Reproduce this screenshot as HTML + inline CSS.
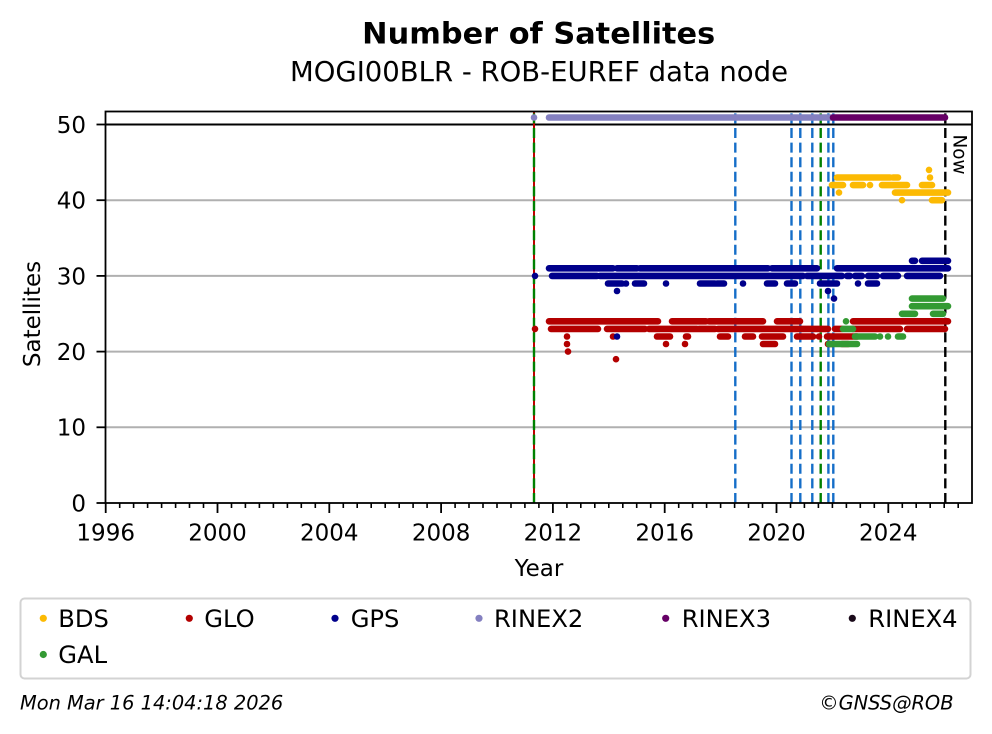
<!DOCTYPE html>
<html>
<head>
<meta charset="utf-8">
<style>
html,body{margin:0;padding:0;background:#fff;}
svg{display:block;}
text{font-family:"DejaVu Sans","Liberation Sans",sans-serif;fill:#000;}
</style>
</head>
<body>
<svg width="992" height="734" viewBox="0 0 992 734" xmlns="http://www.w3.org/2000/svg">
<rect x="0" y="0" width="992" height="734" fill="#fff"/>

<!-- Titles -->
<text x="538.7" y="43.5" font-size="29" font-weight="bold" text-anchor="middle" textLength="353" lengthAdjust="spacingAndGlyphs">Number of Satellites</text>
<text x="539" y="81" font-size="27.5" text-anchor="middle" textLength="498" lengthAdjust="spacingAndGlyphs">MOGI00BLR - ROB-EUREF data node</text>

<!-- grid -->
<g stroke="#b0b0b0" stroke-width="2">
<line x1="105.5" x2="972" y1="427.3" y2="427.3"/>
<line x1="105.5" x2="972" y1="351.6" y2="351.6"/>
<line x1="105.5" x2="972" y1="275.9" y2="275.9"/>
<line x1="105.5" x2="972" y1="200.2" y2="200.2"/>
<line x1="105.5" x2="972" y1="124.5" y2="124.5"/>
</g>
<line x1="105.5" x2="972" y1="124.5" y2="124.5" stroke="#000" stroke-width="2"/>

<!-- vertical lines -->
<g stroke-width="2.4" stroke-dasharray="10 4.6" fill="none">
<line x1="534" x2="534" y1="503" y2="111.5" stroke="#c00000" stroke-dasharray="none" stroke-width="2"/>
<line x1="534" x2="534" y1="503" y2="111.5" stroke="#008000"/>
<line x1="735.3" x2="735.3" y1="503" y2="111.5" stroke="#156ec8"/>
<line x1="791.5" x2="791.5" y1="503" y2="111.5" stroke="#156ec8"/>
<line x1="800.3" x2="800.3" y1="503" y2="111.5" stroke="#156ec8"/>
<line x1="812.3" x2="812.3" y1="503" y2="111.5" stroke="#156ec8"/>
<line x1="820.7" x2="820.7" y1="503" y2="111.5" stroke="#008000"/>
<line x1="828.4" x2="828.4" y1="503" y2="111.5" stroke="#156ec8"/>
<line x1="833.3" x2="833.3" y1="503" y2="111.5" stroke="#156ec8"/>
<line x1="945.3" x2="945.3" y1="503" y2="111.5" stroke="#000"/>
</g>

<!-- data -->
<g fill="none" stroke-linecap="round" stroke-width="6.6">
<!-- BDS -->
<path stroke="#fcba03" d="M837 177.5H890M893 177.5H898M930 177.5h.01
M832 185.1H843M853 185.1H863M870 185.1h.01M882 185.1H907M922 185.1H932
M839 192.6h.01M895 192.6H948
M902 200.2h.01M932 200.2H942
M929 169.9h.01"/>
<!-- GLO -->
<path stroke="#b30000" d="M535 328.9h.01M551 328.9H598M607 328.9H645M649 328.9H697M699 328.9H715M718 328.9H828M835 328.9H842M853 328.9H900M907 328.9H945
M549 321.3H658M672 321.3H706M709 321.3H763M777 321.3H800M853 321.3H948
M567 336.5h.01M613 336.5h.01M819 336.5h.01M657 336.5H670M686 336.5H688M720 336.5H728M745 336.5H753M762 336.5H783M797 336.5H813M827 336.5H857
M567 344h.01M666 344h.01M685 344h.01M763 344H775M828 344H832M842 344H848
M568 351.6h.01M616 359.2h.01"/>
<!-- GPS -->
<path stroke="#00008b" d="M549 268.3H613M617 268.3H637M640 268.3H768M772 268.3H817M837 268.3H948
M535 275.9h.01M552 275.9H597M600 275.9H803M807 275.9H842M847 275.9H850M855 275.9H862M868 275.9H877M883 275.9H898M907 275.9H940
M608 283.5H622M626 283.5h.01M635 283.5H644M666 283.5h.01M700 283.5H715M717 283.5H724M743 283.5h.01M767 283.5H775M787 283.5H795M820 283.5H837M858 283.5h.01M868 283.5H877
M617 291h.01M828 291h.01M834 298.6h.01
M912 260.8H915M922 260.8H948
M617 336.5h.01"/>
<!-- RINEX2 -->
<path stroke="#8480c0" d="M534 117.5h.01M549 117.5H833"/>
<!-- RINEX3 -->
<path stroke="#660066" d="M833 117.5H945"/>
<!-- GAL -->
<path stroke="#339a33" d="M912 298.6H943
M912 306.2H948
M902 313.8H915M933 313.8H943
M846 321.3h.01
M843 328.9H853
M855 336.5H875M880 336.5h.01M888 336.5h.01M898 336.5H903
M829 344H857"/>
</g>

<text transform="translate(953.5,134.5) rotate(90)" font-size="18.4">Now</text>

<!-- axes frame -->
<rect x="105.5" y="111.5" width="866.5" height="391.5" fill="none" stroke="#000" stroke-width="1.8"/>

<!-- y ticks -->
<g stroke="#000" stroke-width="1.8">
<line x1="96.5" x2="105.5" y1="503" y2="503"/>
<line x1="96.5" x2="105.5" y1="427.3" y2="427.3"/>
<line x1="96.5" x2="105.5" y1="351.6" y2="351.6"/>
<line x1="96.5" x2="105.5" y1="275.9" y2="275.9"/>
<line x1="96.5" x2="105.5" y1="200.2" y2="200.2"/>
<line x1="96.5" x2="105.5" y1="124.5" y2="124.5"/>
</g>
<g font-size="23" text-anchor="end">
<text x="86" y="511.4">0</text>
<text x="86" y="435.7">10</text>
<text x="86" y="360">20</text>
<text x="86" y="284.3">30</text>
<text x="86" y="208.6">40</text>
<text x="86" y="132.9">50</text>
</g>
<text transform="translate(40,314) rotate(-90)" font-size="23" text-anchor="middle">Satellites</text>

<!-- x ticks -->
<g stroke="#000" stroke-width="1.6">
<path d="M105.7 503v10M217.5 503v10M329.3 503v10M441.1 503v10M552.9 503v10M664.7 503v10M776.5 503v10M888.3 503v10" stroke-width="1.8"/>
<path d="M119.7 503v5M133.6 503v5M147.6 503v5M161.6 503v5M175.6 503v5M189.5 503v5M203.5 503v5
M231.5 503v5M245.4 503v5M259.4 503v5M273.4 503v5M287.4 503v5M301.3 503v5M315.3 503v5
M343.3 503v5M357.2 503v5M371.2 503v5M385.2 503v5M399.2 503v5M413.1 503v5M427.1 503v5
M455.1 503v5M469 503v5M483 503v5M497 503v5M511 503v5M524.9 503v5M538.9 503v5
M566.9 503v5M580.8 503v5M594.8 503v5M608.8 503v5M622.8 503v5M636.7 503v5M650.7 503v5
M678.7 503v5M692.6 503v5M706.6 503v5M720.6 503v5M734.6 503v5M748.5 503v5M762.5 503v5
M790.5 503v5M804.4 503v5M818.4 503v5M832.4 503v5M846.4 503v5M860.3 503v5M874.3 503v5
M902.3 503v5M916.2 503v5M930.2 503v5M944.2 503v5M958.2 503v5"/>
</g>
<g font-size="23" text-anchor="middle">
<text x="105.7" y="540.5">1996</text>
<text x="217.5" y="540.5">2000</text>
<text x="329.3" y="540.5">2004</text>
<text x="441.1" y="540.5">2008</text>
<text x="552.9" y="540.5">2012</text>
<text x="664.7" y="540.5">2016</text>
<text x="776.5" y="540.5">2020</text>
<text x="888.3" y="540.5">2024</text>
</g>
<text x="539" y="576" font-size="23" text-anchor="middle">Year</text>

<!-- legend -->
<rect x="20.5" y="598.5" width="950" height="80" rx="4" ry="4" fill="#fff" stroke="#d3d3d3" stroke-width="2"/>
<g>
<circle cx="43.3" cy="618.3" r="3.6" fill="#fcba03"/>
<circle cx="189.3" cy="618.3" r="3.6" fill="#b30000"/>
<circle cx="335" cy="618.3" r="3.6" fill="#00008b"/>
<circle cx="479" cy="618.3" r="3.6" fill="#8480c0"/>
<circle cx="665.7" cy="618.3" r="3.6" fill="#660066"/>
<circle cx="852.3" cy="618.3" r="3.6" fill="#1a0a1a"/>
<circle cx="43.3" cy="654.5" r="3.6" fill="#339a33"/>
</g>
<g font-size="24.2">
<text x="58.3" y="626.8">BDS</text>
<text x="204.3" y="626.8">GLO</text>
<text x="350.7" y="626.8">GPS</text>
<text x="494" y="626.8">RINEX2</text>
<text x="681.7" y="626.8">RINEX3</text>
<text x="868.3" y="626.8">RINEX4</text>
<text x="58.3" y="663">GAL</text>
</g>

<!-- footer -->
<text x="20" y="709.3" font-size="19.4" font-style="italic">Mon Mar 16 14:04:18 2026</text>
<text x="953.5" y="709.3" font-size="19.4" font-style="italic" text-anchor="end">©GNSS@ROB</text>
</svg>
</body>
</html>
